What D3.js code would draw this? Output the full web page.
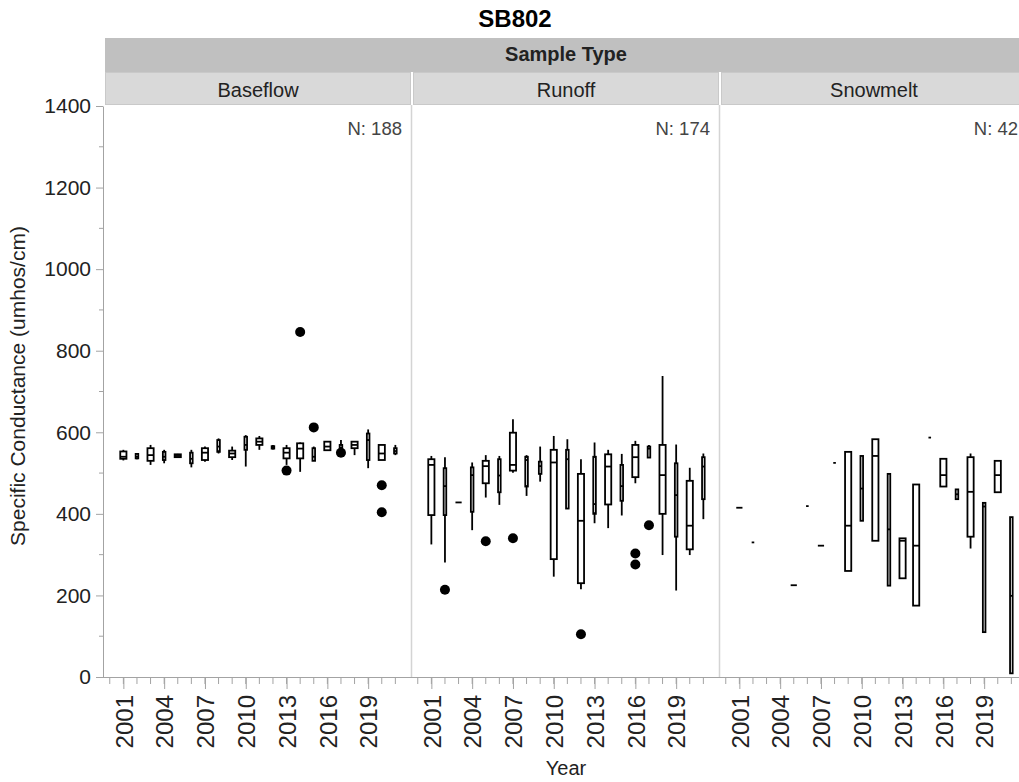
<!DOCTYPE html>
<html>
<head>
<meta charset="utf-8">
<script src="https://cdn.jsdelivr.net/npm/d3@7"></script>
<style>
  body { margin: 0; background: #fff; }
  svg { display: block; font-family: "Liberation Sans", Arial, sans-serif; }
</style>
</head>
<body>
<svg id="chart" width="1019" height="782"></svg>
<script>
// ---------------- DATA ----------------
const chartTitle = "SB802";
const groupTitle = "Sample Type";
const xTitle = "Year";
const yTitle = "Specific Conductance (umhos/cm)";
const sampleTypes = ["Baseflow", "Runoff", "Snowmelt"];
const sampleCounts = [188, 174, 42];
const yTicks = [0, 200, 400, 600, 800, 1000, 1200, 1400];
const yMinorTicks = [100, 300, 500, 700, 900, 1100, 1300];
const yearTicks = [2001, 2004, 2007, 2010, 2013, 2016, 2019];
const yearMinorTicks = [2000, 2001, 2002, 2003, 2004, 2005, 2006, 2007, 2008, 2009, 2010,
                        2011, 2012, 2013, 2014, 2015, 2016, 2017, 2018, 2019, 2020, 2021];

// box stats: [year, lower whisker, Q1, median, Q3, upper whisker]
const baseflowBoxes = [
  [2001, 531, 535, 540, 553, 557],
  [2002, 534, 536, 540, 547, 549],
  [2003, 520, 530, 544, 561, 569],
  [2004, 524, 532, 540, 552, 557],
  [2005, 538, 539, 542, 546, 547],
  [2006, 514, 524, 535, 550, 557],
  [2007, 528, 532, 550, 561, 565],
  [2008, 548, 552, 565, 581, 585],
  [2009, 532, 539, 548, 555, 565],
  [2010, 516, 557, 569, 589, 593],
  [2011, 557, 569, 577, 585, 591],
  [2012, 558, 560, 562, 566, 569],
  [2013, 520, 536, 550, 561, 569],
  [2014, 503, 536, 560, 573, 575],
  [2015, 530, 530, 540, 561, 565],
  [2016, 556, 556, 565, 577, 577],
  [2017, 557, 557, 562, 569, 581],
  [2018, 544, 561, 569, 577, 577],
  [2019, 512, 532, 581, 597, 607],
  [2020, 532, 532, 548, 569, 569],
  [2021, 544, 548, 554, 561, 569]
];
const baseflowOutliers = [[2013, 506], [2014, 846], [2015, 612], [2017, 550], [2020, 470], [2020, 404]];

const runoffBoxes = [
  [2001, 325, 397, 520, 534, 542],
  [2002, 281, 397, 468, 512, 539],
  [2003, 428, 428, 428, 428, 428],
  [2004, 360, 405, 495, 514, 526],
  [2005, 440, 475, 517, 530, 544],
  [2006, 422, 453, 494, 534, 542],
  [2007, 501, 506, 520, 599, 632],
  [2008, 444, 467, 532, 540, 544],
  [2009, 479, 498, 517, 528, 565],
  [2010, 246, 289, 526, 557, 591],
  [2011, 413, 413, 534, 557, 583],
  [2012, 215, 230, 383, 498, 534],
  [2013, 377, 400, 424, 540, 575],
  [2014, 365, 423, 516, 546, 557],
  [2015, 396, 432, 468, 520, 547],
  [2016, 475, 490, 539, 569, 579],
  [2017, 538, 538, 560, 565, 569],
  [2018, 299, 400, 495, 569, 738],
  [2019, 212, 344, 446, 524, 570],
  [2020, 299, 313, 371, 481, 513],
  [2021, 387, 436, 516, 539, 548]
];
const runoffOutliers = [[2002, 214], [2005, 333], [2007, 340], [2012, 105], [2016, 303], [2016, 276], [2017, 372]];

const snowmeltBoxes = [
  [2001, 415, 415, 415, 415, 415],
  [2002, 330, 330, 330, 330, 330],
  [2005, 225, 225, 225, 225, 225],
  [2006, 419, 419, 419, 419, 419],
  [2007, 322, 322, 322, 322, 322],
  [2008, 525, 525, 525, 525, 525],
  [2009, 260, 260, 371, 552, 552],
  [2010, 383, 383, 462, 542, 542],
  [2011, 334, 334, 542, 583, 583],
  [2012, 224, 224, 362, 498, 498],
  [2013, 242, 242, 334, 340, 340],
  [2014, 175, 175, 322, 472, 472],
  [2015, 587, 587, 587, 587, 587],
  [2016, 467, 467, 495, 535, 535],
  [2017, 436, 436, 448, 460, 460],
  [2018, 315, 344, 454, 539, 548],
  [2019, 110, 110, 418, 427, 427],
  [2020, 453, 453, 495, 530, 530],
  [2021, 9, 9, 199, 392, 392]
];
const snowmeltOutliers = [];

const panelBoxes = [baseflowBoxes, runoffBoxes, snowmeltBoxes];
const panelOutliers = [baseflowOutliers, runoffOutliers, snowmeltOutliers];

// ---------------- STYLE ----------------
const narrowBoxYears = [
  [2002, 2004, 2006, 2008, 2010, 2012, 2015, 2017, 2019, 2021],
  [2002, 2004, 2006, 2008, 2009, 2011, 2013, 2015, 2017, 2019, 2021],
  [2002, 2006, 2008, 2010, 2012, 2015, 2017, 2019, 2021]
];
const axisColor = "#a3a3a3";
const textColor = "#222";

// ---------------- LAYOUT ----------------
const svg = d3.select("#chart");
const plotTop = 106, plotBottom = 677;
const panelLeft0 = 105, panelW = 306, panelStep = 308;
const headerTop = 38, headerMid = 72, headerBottom = 105;

const y = d3.scaleLinear().domain([0, 1400]).range([plotBottom, plotTop]);
const x = d3.scaleLinear().domain([1999.65, 2022.15]).range([0, panelW]);

// title
svg.append("text").attr("x", 515).attr("y", 27).attr("text-anchor", "middle")
  .attr("font-size", 24).attr("font-weight", "bold").attr("fill", "#000").text(chartTitle);

// group header
const fullRight = panelLeft0 + panelStep * 2 + panelW;
svg.append("rect").attr("x", panelLeft0).attr("y", headerTop)
  .attr("width", fullRight - panelLeft0).attr("height", headerMid - headerTop)
  .attr("fill", "#c0c0c0");
svg.append("text").attr("x", (panelLeft0 + fullRight) / 2).attr("y", 61)
  .attr("text-anchor", "middle").attr("font-size", 20).attr("font-weight", "bold")
  .attr("fill", textColor).text(groupTitle);

// y axis
const yAxisG = svg.append("g").attr("transform", `translate(${panelLeft0 - 2},0)`);
yAxisG.call(d3.axisLeft(y).tickValues(yTicks).tickFormat(d3.format("d"))
  .tickSize(7).tickSizeOuter(0).tickPadding(5));
yAxisG.selectAll("line").attr("stroke", axisColor);
yAxisG.select(".domain").attr("stroke", axisColor);
yAxisG.selectAll("text").attr("font-size", 21).attr("fill", textColor)
  .attr("font-family", '"Liberation Sans", Arial, sans-serif');
yAxisG.selectAll(".minor").data(yMinorTicks).enter().append("line")
  .attr("x1", -4).attr("x2", 0).attr("y1", d => y(d)).attr("y2", d => y(d))
  .attr("stroke", axisColor);

svg.append("text").attr("transform", `translate(25,386) rotate(-90)`)
  .attr("text-anchor", "middle").attr("font-size", 21).attr("fill", textColor).text(yTitle);

// panels
sampleTypes.forEach((name, i) => {
  const left = panelLeft0 + i * panelStep;
  const g = svg.append("g").attr("transform", `translate(${left},0)`);

  // sub header
  g.append("rect").attr("x", 0.5).attr("y", headerMid + 0.5)
    .attr("width", panelW - 1).attr("height", headerBottom - headerMid - 1)
    .attr("fill", "#d9d9d9").attr("stroke", "#c9c9c9");
  g.append("text").attr("x", panelW / 2).attr("y", 97).attr("text-anchor", "middle")
    .attr("font-size", 20).attr("fill", textColor).text(name);

  // separator
  g.append("line").attr("x1", panelW + 0.5).attr("x2", panelW + 0.5)
    .attr("y1", headerBottom).attr("y2", plotBottom).attr("stroke", "#d4d4d4").attr("stroke-width", 1.5);

  // N label
  g.append("text").attr("x", panelW - 9).attr("y", 135).attr("text-anchor", "end")
    .attr("font-size", 18.5).attr("fill", "#444").text("N: " + sampleCounts[i]);

  // x axis
  const xg = g.append("g").attr("transform", `translate(0,${plotBottom})`);
  xg.call(d3.axisBottom(x).tickValues(yearTicks).tickFormat(d3.format("d"))
      .tickSize(12).tickSizeOuter(0).tickPadding(5));
  xg.select(".domain").attr("stroke", axisColor).attr("d", `M-2,0.5H${panelStep}`);
  xg.selectAll("line").attr("stroke", axisColor);
  xg.selectAll("text")
    .attr("font-size", 24).attr("fill", textColor)
    .attr("font-family", '"Liberation Sans", Arial, sans-serif')
    .attr("transform", "rotate(-90)")
    .attr("text-anchor", "end")
    .attr("x", -18).attr("y", 0).attr("dy", "0.36em");
  xg.selectAll(".minor").data(yearMinorTicks).enter().append("line")
    .attr("x1", d => x(d)).attr("x2", d => x(d)).attr("y1", 0).attr("y2", 7)
    .attr("stroke", axisColor);

  // boxes
  const narrow = new Set(narrowBoxYears[i]);
  const bw = yr => narrow.has(yr) ? 2.6 : 6.2;
  const boxes = g.append("g").attr("stroke", "#000").attr("stroke-width", 1.8).attr("fill", "none");
  panelBoxes[i].forEach(([yr, lo, q1, med, q3, hi]) => {
    const cx = x(yr), w = bw(yr);
    if (hi > q3) boxes.append("line").attr("x1", cx).attr("x2", cx).attr("y1", y(hi)).attr("y2", y(q3));
    if (lo < q1) boxes.append("line").attr("x1", cx).attr("x2", cx).attr("y1", y(q1)).attr("y2", y(lo));
    boxes.append("rect").attr("x", cx - w / 2).attr("y", y(q3))
      .attr("width", w).attr("height", Math.max(0, y(q1) - y(q3)));
    boxes.append("line").attr("x1", cx - w / 2).attr("x2", cx + w / 2)
      .attr("y1", y(med)).attr("y2", y(med));
  });

  g.append("g").selectAll("circle").data(panelOutliers[i]).enter().append("circle")
    .attr("cx", d => x(d[0])).attr("cy", d => y(d[1])).attr("r", 5).attr("fill", "#000");
});

// x title
svg.append("text").attr("x", (panelLeft0 + fullRight) / 2).attr("y", 775)
  .attr("text-anchor", "middle").attr("font-size", 20).attr("fill", textColor).text(xTitle);
</script>
</body>
</html>
